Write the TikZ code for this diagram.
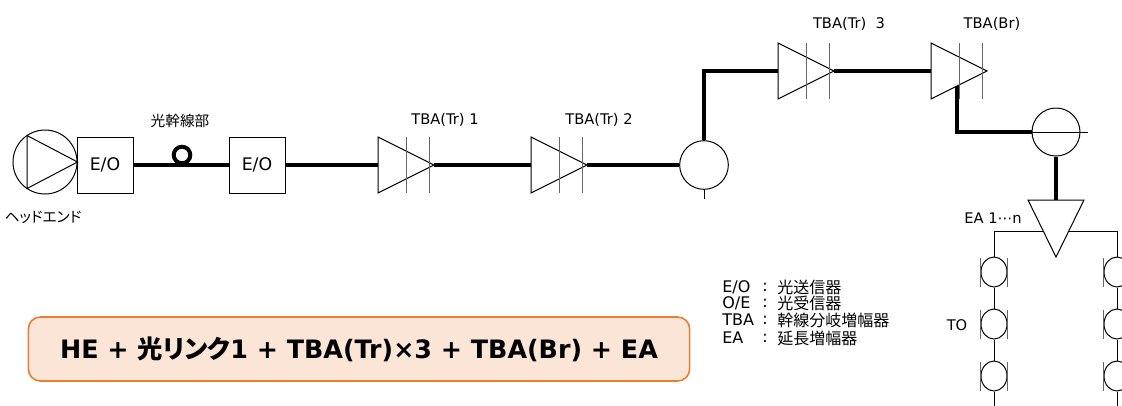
\documentclass[tikz,border=0pt]{standalone}
\usepackage{fontspec}
\setmainfont{DejaVu Sans}
\newfontfamily\jp{Noto Sans CJK JP}
\newfontfamily\jpp[RawFeature=+palt]{Noto Sans CJK JP}
\usetikzlibrary{shapes.geometric,calc}
\definecolor{boxfill}{HTML}{FBE5D6}
\definecolor{boxorange}{HTML}{ED7D31}
\begin{document}
\begin{tikzpicture}[x=0.75pt,y=-0.75pt,
  thickline/.style={line width=3pt},
  thinline/.style={line width=0.75pt},
  barline/.style={line width=0.75pt, draw=black!60},
  eobox/.style={draw, line width=0.75pt, minimum width=42pt, minimum height=42pt, inner sep=0pt, font=\fontsize{13}{15}\selectfont},
  lbl/.style={inner sep=0pt, font=\fontsize{11}{13}\selectfont},
  leg/.style={inner sep=0pt, anchor=west, font=\fontsize{12}{14}\selectfont},
  tap/.style={ellipse, draw, line width=0.75pt, minimum width=19.5pt, minimum height=22.5pt, inner sep=0pt},
  tba/.pic={\draw[thinline] (0,-28) -- (0,28) -- (56,0) -- cycle;
            \draw[barline] (28,-28) -- (28,28) (51,-28) -- (51,28);}
]
\clip (0,0) rectangle (1122,405);

% head end
\node[circle, draw, line width=0.75pt, minimum size=48pt, inner sep=0pt] (he) at (45,162) {};
\draw[thinline] (he.east) -- (27,135.5) -- (27,188.5) -- cycle;
\node[eobox] (eo1) at (105,165) {E/O};
\node[eobox] (eo2) at (257,165) {E/O};
\coordinate (loop) at (182,155);
\draw[thickline] (eo1.east) -- (eo2.west);
\draw[thickline] (loop) circle [radius=6.2pt];

% trunk amplifiers
\coordinate (t1) at (378,165); \coordinate (t1o) at (434,165);
\coordinate (t2) at (531,165); \coordinate (t2o) at (587,165);
\coordinate (t3) at (778,71);  \coordinate (t3o) at (834,71);
\coordinate (tb) at (931,71);
\pic at (t1) {tba};
\pic at (t2) {tba};
\pic at (t3) {tba};
\pic at (tb) {tba};

\node[circle, draw, line width=0.75pt, minimum size=36.5pt, inner sep=0pt] (sp1) at (704,165) {};
\coordinate (stub1) at (704,199);
\coordinate (bend1) at (704,71);

\draw[thickline] (eo2.east) -- (t1);
\draw[thickline] (t1o) -- (t2);
\draw[thickline] (t2o) -- (sp1.west);
\draw[thinline] (sp1.south) -- (stub1);
\draw[thickline] (sp1.north) -- (bend1) -- (t3);
\draw[thickline] (t3o) -- (tb);

% bridger branch
\node[circle, draw, line width=0.75pt, minimum size=36pt, inner sep=0pt] (sp2) at (1056,132) {};
\coordinate (tbb) at (957,85.5);
\coordinate (bend2) at (957,132);
\coordinate (sp2r) at (1088,132);
\draw[thickline] (tbb) -- (bend2) -- (sp2.west);
\draw[thinline] (sp2.west) -- (sp2r);

% extension amplifier
\coordinate (eatop) at (1056,200);
\draw[thinline] (1028,200) -- (1084,200) -- (1056,257) -- cycle;
\draw[thickline] (sp2.south) -- (eatop);
\coordinate (eal) at (1043.3,231);
\coordinate (ear) at (1068.7,231);
\coordinate (cl) at (994,231);
\coordinate (cr) at (1117,231);

\foreach \s/\x in {l/994, r/1117} {
  \node[tap] (\s1) at (\x,272) {};
  \node[tap] (\s2) at (\x,324) {};
  \node[tap] (\s3) at (\x,376) {};
  \coordinate (\s end) at (\x,410);
  \foreach \i in {1,2,3} {
    \draw[barline] ($(\s\i.west)+(0,-14.5)$) -- ($(\s\i.west)+(0,14.5)$);
    \draw[barline] ($(\s\i.east)+(0,-14.5)$) -- ($(\s\i.east)+(0,14.5)$);
  }
  \draw[thinline] (\s1.south) -- (\s2.north);
  \draw[thinline] (\s2.south) -- (\s3.north);
  \draw[thinline] (\s3.south) -- (\s end);
}
\draw[thinline] (eal) -- (cl) -- (l1.north);
\draw[thinline] (ear) -- (cr) -- (r1.north);

% labels
\node[lbl] (lhe) at (43,217) {\jpp ヘッドエンド};
\node[lbl] (lfib) at (180,121) {\jp 光幹線部};
\node[lbl] (l1lab) at (445,120) {TBA(Tr) 1};
\node[lbl] (l2lab) at (599,120) {TBA(Tr) 2};
\node[lbl] (l3lab) at (849,24) {TBA(Tr)\ \ 3};
\node[lbl] (lblab) at (992,24) {TBA(Br)};
\node[lbl] (lea) at (993,218) {EA 1⋯n};
\node[lbl] (lto) at (957,325) {TO};

% legend
\node[leg] (k1) at (722,287) {E/O};
\node[leg] (k2) at (722,303) {O/E};
\node[leg] (k3) at (722,320) {TBA};
\node[leg] (k4) at (722,338) {EA};
\foreach \y in {287,303,320,338} \node[leg] at (762,\y) {:};
\node[leg] (d1) at (777,287) {\jp 光送信器};
\node[leg] (d2) at (777,303) {\jp 光受信器};
\node[leg] (d3) at (777,320) {\jp 幹線分岐増幅器};
\node[leg] (d4) at (777,338) {\jp 延長増幅器};

% summary box
\node[draw=boxorange, fill=boxfill, line width=1.2pt, rounded corners=9pt,
      minimum width=496pt, minimum height=48pt, inner sep=0pt,
      font=\bfseries\fontsize{19}{23}\selectfont] (sum) at (359,349)
      {HE + {\jpp 光リンク}1 + TBA(Tr)×3 + TBA(Br) + EA};
\end{tikzpicture}
\end{document}
